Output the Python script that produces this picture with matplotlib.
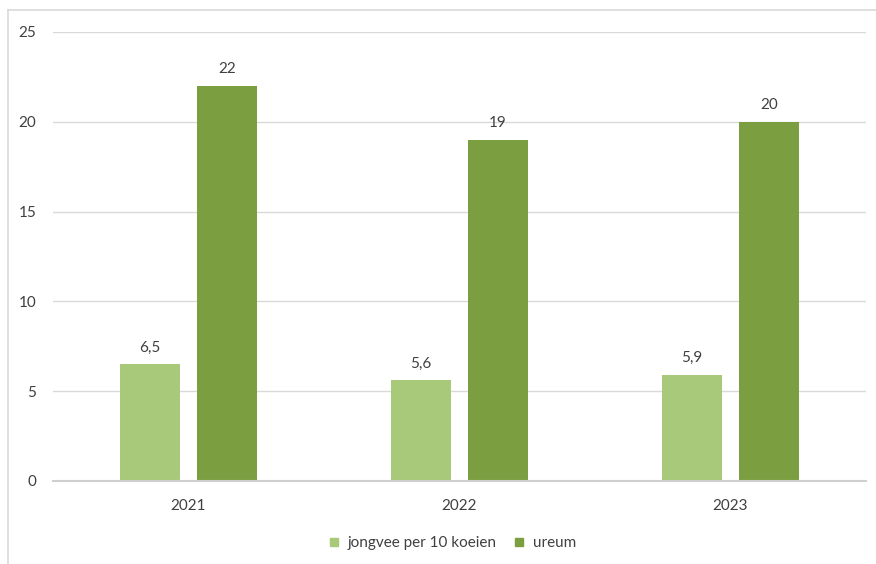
import matplotlib.pyplot as plt
from matplotlib.lines import Line2D
import numpy as np

plt.rcParams['font.family'] = ['Lato', 'DejaVu Sans']

jaren = ['2021', '2022', '2023']
jongvee = [6.5, 5.6, 5.9]
ureum = [22, 19, 20]
labels_jongvee = ['6,5', '5,6', '5,9']
labels_ureum = ['22', '19', '20']

licht = '#a9c97a'
donker = '#7b9e41'
tekst = '#404040'

fig = plt.figure(figsize=(8.76, 5.64), dpi=100)
ax = fig.add_axes([0.0605, 0.1472, 0.9281, 0.7961])

x = np.arange(len(jaren))
w = 0.221
off = 0.142

b1 = ax.bar(x - off, jongvee, w, color=licht, label='jongvee per 10 koeien', zorder=3)
b2 = ax.bar(x + off, ureum, w, color=donker, label='ureum', zorder=3)

for rect, lab in zip(b1, labels_jongvee):
    ax.annotate(lab, (rect.get_x() + rect.get_width() / 2, rect.get_height()),
                xytext=(0, 7), textcoords='offset points', ha='center', va='bottom',
                fontsize=11, color=tekst)
for rect, lab in zip(b2, labels_ureum):
    ax.annotate(lab, (rect.get_x() + rect.get_width() / 2, rect.get_height()),
                xytext=(0, 7), textcoords='offset points', ha='center', va='bottom',
                fontsize=11, color=tekst)

ax.set_xlim(-0.5, 2.5)
ax.set_ylim(0, 25)
ax.set_yticks([0, 5, 10, 15, 20, 25])
ax.set_xticks(x)
ax.set_xticklabels(jaren)
ax.tick_params(axis='both', length=0, labelsize=11, colors=tekst)
ax.tick_params(axis='y', pad=12)
ax.tick_params(axis='x', pad=13)
ax.grid(axis='y', color='#d9d9d9', linewidth=1, zorder=0)
for s in ['top', 'right', 'left']:
    ax.spines[s].set_visible(False)
ax.spines['bottom'].set_color('#d0d0d0')
ax.spines['bottom'].set_linewidth(1.5)
ax.spines['bottom'].set_zorder(4)

handles = [Line2D([], [], marker='s', linestyle='', markersize=6, color=licht),
           Line2D([], [], marker='s', linestyle='', markersize=6, color=donker)]
fig.legend(handles, ['jongvee per 10 koeien', 'ureum'], loc='center',
           bbox_to_anchor=(0.514, 0.037), ncol=2, frameon=False, fontsize=11,
           labelcolor=tekst, handlelength=1.2, handletextpad=0.3, columnspacing=0.9)

# rand van het diagram
fig.add_artist(Line2D([8 / 876, 8 / 876], [0, 1 - 10 / 564], color='#d9d9d9', linewidth=1.2))
fig.add_artist(Line2D([8 / 876, 1], [1 - 10 / 564, 1 - 10 / 564], color='#d9d9d9', linewidth=1.2))

fig.savefig('out.png', dpi=100)
